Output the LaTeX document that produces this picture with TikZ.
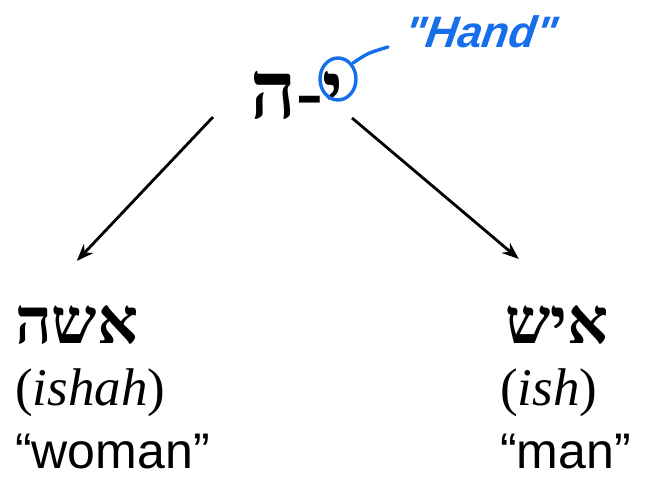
\documentclass[tikz,border=0pt]{standalone}
\usepackage{fontspec}
\setmainfont{Liberation Serif}
\newfontfamily\hebfont[Script=Hebrew]{Liberation Serif}
\newfontfamily\glossfont{Liberation Sans}
\TeXXeTstate=1
\usetikzlibrary{positioning, arrows.meta}
\definecolor{penblue}{RGB}{22,110,235}

\begin{document}
\begin{tikzpicture}[x=1pt, y=-1pt, >={Stealth[length=17pt, width=13pt]},
    heb/.style={inner sep=0pt, anchor=base west, font=\hebfont\bfseries\fontsize{64}{64}\selectfont},
    translit/.style={inner sep=0pt, anchor=base west, font=\fontsize{53}{53}\selectfont},
    gloss/.style={inner sep=0pt, anchor=base west, font=\glossfont\fontsize{50}{50}\selectfont},
    arr/.style={->, line width=2.8pt},
    pen/.style={penblue, line width=3.4pt, line cap=round}]
  \useasboundingbox (0,0) rectangle (650,477);

  % top word and the circled yod
  \node[heb, font=\hebfont\bfseries\fontsize{80}{80}\selectfont] (yh) at (250,118) {\beginR י-ה\endR};
  \draw[pen] (338,79) ellipse [x radius=18, y radius=21];
  \node[inner sep=0pt, text=penblue, xslant=0.15, font=\glossfont\bfseries\itshape\fontsize{44}{44}\selectfont] (hand) at (482,32) {"Hand"};
  \draw[pen] (353,63) .. controls (368,53) .. (388,47);

  % woman
  \node[heb] (ishah) at (15,343) {\beginR אשה\endR};
  \node[translit] (ishahtr) at (15,405) {(\textit{ishah})};
  \node[gloss] (woman) at (15,468) {“woman”};

  % man
  \node[heb] (ish) at (505,343) {\beginR איש\endR};
  \node[translit] (ishtr) at (500,405) {(\textit{ish})};
  \node[gloss] (man) at (500,468) {“man”};

  % arrows
  \coordinate (yhL) at ([shift={(-37,-1)}]yh.base west);
  \coordinate (yhR) at ([shift={(8,0)}]yh.base east);
  \draw[arr] (yhL) -- ([yshift=44]ishah.north);
  \draw[arr] (yhR) -- ([shift={(-38,-46)}]ish.north);
\end{tikzpicture}
\end{document}
